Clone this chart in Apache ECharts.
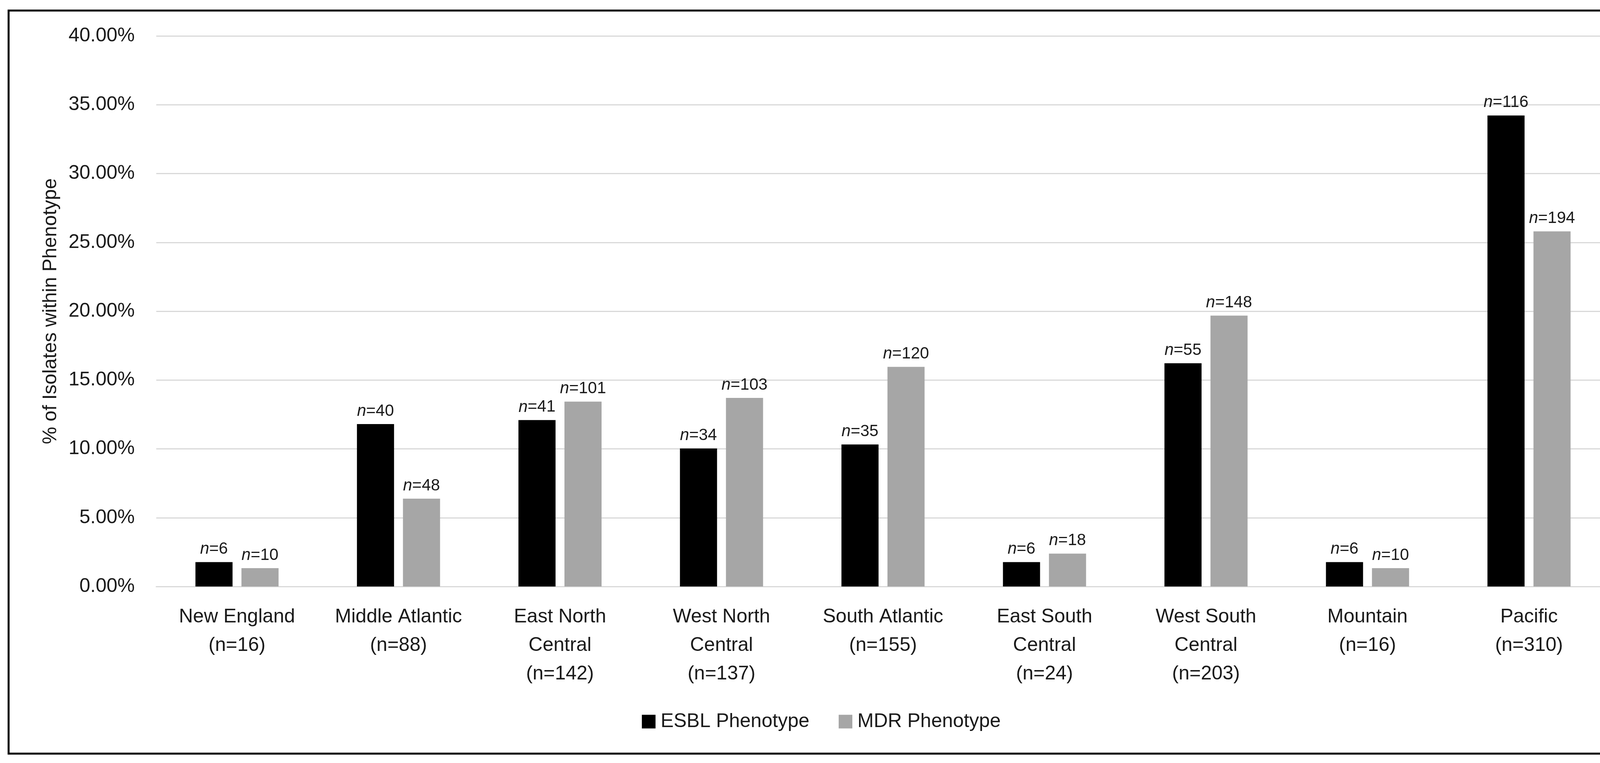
<!DOCTYPE html>
<html>
<head>
<meta charset="utf-8">
<script src="https://cdn.jsdelivr.net/npm/echarts@6/dist/echarts.min.js"></script>
<style>
html,body{margin:0;padding:0;background:#fff;overflow:hidden;}
#chart{width:4205px;height:1954px;}
</style>
</head>
<body>
<div id="chart"></div>
<script>
const categories = [
  'New England\n(n=16)',
  'Middle Atlantic\n(n=88)',
  'East North\nCentral\n(n=142)',
  'West North\nCentral\n(n=137)',
  'South Atlantic\n(n=155)',
  'East South\nCentral\n(n=24)',
  'West South\nCentral\n(n=203)',
  'Mountain\n(n=16)',
  'Pacific\n(n=310)'
];
const esblValues = [1.77, 11.80, 12.09, 10.03, 10.32, 1.77, 16.22, 1.77, 34.22];
const mdrValues  = [1.33, 6.38, 13.43, 13.70, 15.96, 2.39, 19.68, 1.33, 25.80];
const esblN = [6, 40, 41, 34, 35, 6, 55, 6, 116];
const mdrN  = [10, 48, 101, 103, 120, 18, 148, 10, 194];
const yTicks = [0, 5, 10, 15, 20, 25, 30, 35, 40];

const FONT = 'Liberation Sans';
const TXT = '#1a1a1a';
const chart = echarts.init(document.getElementById('chart'));

function barLabel(nArr) {
  return {
    show: true,
    position: 'top',
    distance: 12,
    fontFamily: FONT,
    fontSize: 42,
    color: TXT,
    formatter: p => '{i|n}=' + nArr[p.dataIndex],
    rich: { i: { fontStyle: 'italic', fontFamily: FONT, fontSize: 42, color: TXT } }
  };
}

chart.setOption({
  backgroundColor: '#fff',
  animation: false,
  textStyle: { fontFamily: FONT },
  graphic: [{
    type: 'rect',
    shape: { x: 22, y: 27, width: 4157, height: 1903 },
    style: { fill: 'none', stroke: '#000', lineWidth: 5 },
    silent: true
  }],
  grid: { left: 400, right: 84, top: 92, bottom: 452 },
  legend: {
    data: ['ESBL Phenotype', 'MDR Phenotype'],
    left: 'center',
    top: 1818,
    itemWidth: 35,
    itemHeight: 35,
    itemGap: 75,
    icon: 'rect',
    textStyle: { fontFamily: FONT, fontSize: 50, color: TXT, padding: [0, 0, 0, 8] }
  },
  xAxis: {
    type: 'category',
    data: categories,
    axisLine: { show: true, lineStyle: { color: '#d9d9d9', width: 3 } },
    axisTick: { show: false },
    axisLabel: {
      interval: 0,
      margin: 42,
      fontFamily: FONT,
      fontSize: 50,
      lineHeight: 73,
      color: TXT
    }
  },
  yAxis: {
    type: 'value',
    min: yTicks[0],
    max: yTicks[yTicks.length - 1],
    interval: yTicks[1] - yTicks[0],
    name: '% of Isolates within Phenotype',
    nameLocation: 'middle',
    nameGap: 245,
    nameTextStyle: { fontFamily: FONT, fontSize: 50, color: TXT },
    axisLine: { show: false },
    axisTick: { show: false },
    axisLabel: {
      margin: 55,
      fontFamily: FONT,
      fontSize: 50,
      color: TXT,
      formatter: v => v.toFixed(2) + '%'
    },
    splitLine: { lineStyle: { color: '#d9d9d9', width: 3 } }
  },
  series: [
    {
      name: 'ESBL Phenotype',
      type: 'bar',
      data: esblValues,
      barWidth: 95,
      barGap: '24%',
      itemStyle: { color: '#000000' },
      label: barLabel(esblN)
    },
    {
      name: 'MDR Phenotype',
      type: 'bar',
      data: mdrValues,
      barWidth: 95,
      barGap: '24%',
      itemStyle: { color: '#a6a6a6' },
      label: barLabel(mdrN)
    }
  ]
});
</script>
</body>
</html>
